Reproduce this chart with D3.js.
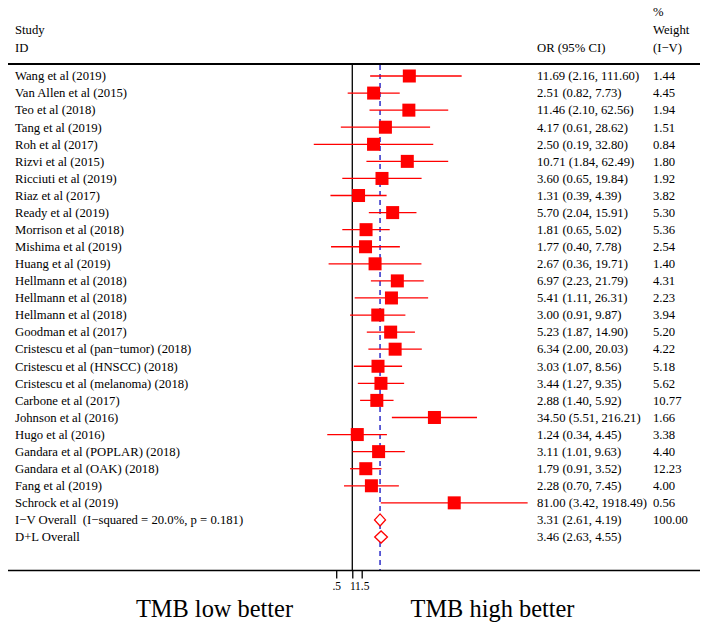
<!DOCTYPE html>
<html>
<head>
<meta charset="utf-8">
<script src="https://cdn.jsdelivr.net/npm/d3@7"></script>
<style>
body { margin: 0; background: #fff; }
svg text { font-family: "Liberation Serif", "Times New Roman", serif; }
</style>
</head>
<body>
<svg id="chart" width="708" height="627"></svg>
<script>
const studies = ["Wang et al (2019)","Van Allen et al (2015)","Teo et al (2018)","Tang et al (2019)","Roh et al (2017)","Rizvi et al (2015)","Ricciuti et al (2019)","Riaz et al (2017)","Ready et al (2019)","Morrison et al (2018)","Mishima et al (2019)","Huang et al (2019)","Hellmann et al (2018)","Hellmann et al (2018)","Hellmann et al (2018)","Goodman et al (2017)","Cristescu et al (pan\u2212tumor) (2018)","Cristescu et al (HNSCC) (2018)","Cristescu et al (melanoma) (2018)","Carbone et al (2017)","Johnson et al (2016)","Hugo et al (2016)","Gandara et al (POPLAR) (2018)","Gandara et al (OAK) (2018)","Fang et al (2019)","Schrock et al (2019)"];
const orValues = [11.69,2.51,11.46,4.17,2.50,10.71,3.60,1.31,5.70,1.81,1.77,2.67,6.97,5.41,3.00,5.23,6.34,3.03,3.44,2.88,34.50,1.24,3.11,1.79,2.28,81.00];
const lowerCI = [2.16,0.82,2.10,0.61,0.19,1.84,0.65,0.39,2.04,0.65,0.40,0.36,2.23,1.11,0.91,1.87,2.00,1.07,1.27,1.40,5.51,0.34,1.01,0.91,0.70,3.42];
const upperCI = [111.60,7.73,62.56,28.62,32.80,62.49,19.84,4.39,15.91,5.02,7.78,19.71,21.79,26.31,9.87,14.90,20.03,8.56,9.35,5.92,216.21,4.45,9.63,3.52,7.45,1918.49];
const weights = ["1.44","4.45","1.94","1.51","0.84","1.80","1.92","3.82","5.30","5.36","2.54","1.40","4.31","2.23","3.94","5.20","4.22","5.18","5.62","10.77","1.66","3.38","4.40","12.23","4.00","0.56"];
const overallLabels = ["I\u2212V Overall  (I\u2212squared = 20.0%, p = 0.181)","D+L Overall"];
const overallOR = [3.31,3.46];
const overallLower = [2.61,2.63];
const overallUpper = [4.19,4.55];
const overallWeights = ["100.00",""];
const tickValues = [0.5,1,1.5];
const tickLabels = [".5","1","1.5"];

const fmt = d3.format(".2f");
const svg = d3.select("#chart");
const FS = 12.7;

// log scale: x(1)=352.3, ~23.2px per ln unit
const x = d3.scaleLog().domain([0.05, 2000]).range([282.8, 528.6]);
const nRows = studies.length + overallLabels.length;
const y = d3.scaleLinear().domain([0, nRows - 1]).range([76, 537]);

const topY = 64, axisY = 570.5;
const colOR = 537, colW = 653, colL = 15;

// header
const hdr = svg.append("g").attr("font-size", FS).attr("fill", "#000");
hdr.append("text").attr("x", colL).attr("y", 34).text("Study");
hdr.append("text").attr("x", colL).attr("y", 52).text("ID");
hdr.append("text").attr("x", colOR).attr("y", 52).text("OR (95% CI)");
hdr.append("text").attr("x", colW).attr("y", 16).text("%");
hdr.append("text").attr("x", colW).attr("y", 34).text("Weight");
hdr.append("text").attr("x", colW).attr("y", 52).text("(I\u2212V)");

// top rule
svg.append("line").attr("x1", 8).attr("x2", 700).attr("y1", topY).attr("y2", topY)
  .attr("stroke", "#000").attr("stroke-width", 2);

// null line
svg.append("line").attr("x1", x(1)).attr("x2", x(1)).attr("y1", topY).attr("y2", axisY)
  .attr("stroke", "#000").attr("stroke-width", 1.3);

// overall dashed line
svg.append("line").attr("x1", x(overallOR[0])).attr("x2", x(overallOR[0])).attr("y1", topY + 1).attr("y2", axisY)
  .attr("stroke", "#3a3acc").attr("stroke-width", 1.6).attr("stroke-dasharray", "5,4");

// study rows
const rows = svg.append("g");
studies.forEach((s, i) => {
  const cy = y(i);
  rows.append("text").attr("x", colL).attr("y", cy + 4.3).attr("font-size", FS).text(s);
  rows.append("line").attr("x1", x(lowerCI[i])).attr("x2", x(upperCI[i])).attr("y1", cy).attr("y2", cy)
    .attr("stroke", "#ff0000").attr("stroke-width", 1.3);
  rows.append("rect").attr("x", x(orValues[i]) - 6.5).attr("y", cy - 6.5).attr("width", 13).attr("height", 13)
    .attr("fill", "#ff0000");
  rows.append("text").attr("x", colOR).attr("y", cy + 4.3).attr("font-size", FS)
    .text(`${fmt(orValues[i])} (${fmt(lowerCI[i])}, ${fmt(upperCI[i])})`);
  rows.append("text").attr("x", colW).attr("y", cy + 4.3).attr("font-size", FS).text(weights[i]);
});

// overall rows
overallLabels.forEach((s, j) => {
  const cy = y(studies.length + j);
  rows.append("text").attr("x", colL).attr("y", cy + 4.3).attr("font-size", FS).style("white-space", "pre").text(s);
  const xl = x(overallLower[j]), xr = x(overallUpper[j]), xm = x(overallOR[j]);
  rows.append("path").attr("d", `M${xl},${cy} L${xm},${cy - 6} L${xr},${cy} L${xm},${cy + 6} Z`)
    .attr("fill", "#fff").attr("stroke", "#ff0000").attr("stroke-width", 1.3);
  rows.append("text").attr("x", colOR).attr("y", cy + 4.3).attr("font-size", FS)
    .text(`${fmt(overallOR[j])} (${fmt(overallLower[j])}, ${fmt(overallUpper[j])})`);
  rows.append("text").attr("x", colW).attr("y", cy + 4.3).attr("font-size", FS).text(overallWeights[j]);
});

// axis
svg.append("line").attr("x1", 8).attr("x2", 700).attr("y1", axisY).attr("y2", axisY)
  .attr("stroke", "#000").attr("stroke-width", 1.5);
const axis = d3.axisBottom(x).tickValues(tickValues).tickSize(8).tickFormat((d, i) => tickLabels[i]);
const ag = svg.append("g").attr("transform", `translate(0,${axisY})`).call(axis);
ag.select(".domain").remove();
ag.selectAll(".tick line").attr("stroke", "#000").attr("stroke-width", 1.3);
ag.selectAll(".tick text").attr("font-family", "Liberation Serif, serif").attr("font-size", 11.5).attr("fill", "#000").attr("dy", "0.7em");

// bottom labels
svg.append("text").attr("x", 214.5).attr("y", 617).attr("text-anchor", "middle").attr("font-size", 24.4).text("TMB low better");
svg.append("text").attr("x", 492.5).attr("y", 617).attr("text-anchor", "middle").attr("font-size", 24.4).text("TMB high better");
</script>
</body>
</html>
